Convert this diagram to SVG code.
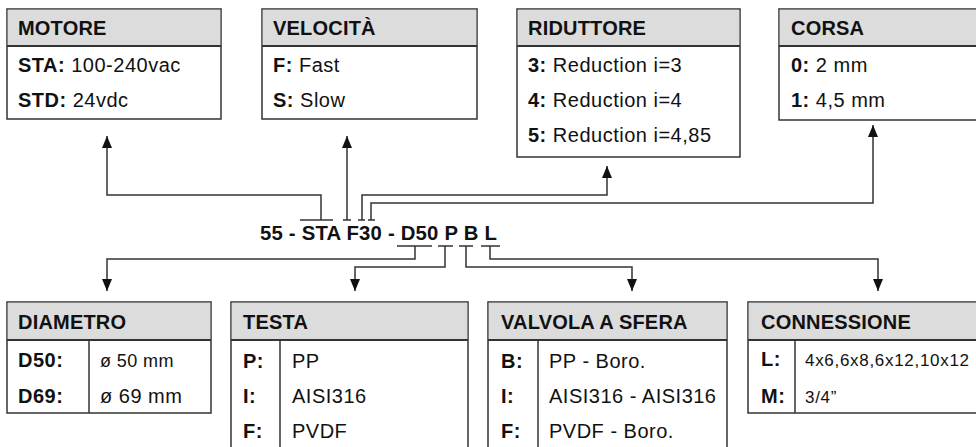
<svg xmlns="http://www.w3.org/2000/svg" width="976" height="447" viewBox="0 0 976 447">
<style>
text{font-family:"Liberation Sans",Arial,sans-serif;fill:#111}
.h{font-size:20px;font-weight:bold;letter-spacing:0.2px}
.t{font-size:20px;letter-spacing:0.5px}
.k{font-weight:bold}
.s{font-size:17px;letter-spacing:0.7px}
.box{fill:#fff;stroke:#333;stroke-width:1.5}
.hd{fill:#dcdcdc}
.sep{stroke:#333;stroke-width:2}
.div{stroke:#333;stroke-width:1.5}
.con{fill:none;stroke:#333;stroke-width:1.5}
</style>
<defs>
<marker id="arr" viewBox="0 0 12 10" refX="12" refY="5" markerWidth="12" markerHeight="10" markerUnits="userSpaceOnUse" orient="auto">
<path d="M0,0 L12,5 L0,10 z" fill="#111"/>
</marker>
</defs>

<g id="motore">
<rect class="box" x="7" y="9" width="214" height="110"/>
<rect class="hd" x="7.75" y="9.75" width="212.5" height="36"/>
<line class="sep" x1="7" y1="46" x2="221" y2="46"/>
<text class="h" x="18" y="35">MOTORE</text>
<text class="t" x="18" y="72"><tspan class="k">STA:</tspan> 100-240vac</text>
<text class="t" x="18" y="107"><tspan class="k">STD:</tspan> 24vdc</text>
</g>

<g id="velocita">
<rect class="box" x="262" y="9" width="215" height="110"/>
<rect class="hd" x="262.75" y="9.75" width="213.5" height="36"/>
<line class="sep" x1="262" y1="46" x2="477" y2="46"/>
<text class="h" x="273" y="35">VELOCITÀ</text>
<text class="t" x="273" y="72"><tspan class="k">F:</tspan> Fast</text>
<text class="t" x="273" y="107"><tspan class="k">S:</tspan> Slow</text>
</g>

<g id="riduttore">
<rect class="box" x="517" y="9" width="223" height="148"/>
<rect class="hd" x="517.75" y="9.75" width="221.5" height="36"/>
<line class="sep" x1="517" y1="46" x2="740" y2="46"/>
<text class="h" x="528" y="35">RIDUTTORE</text>
<text class="t" x="528" y="72"><tspan class="k">3:</tspan> Reduction i=3</text>
<text class="t" x="528" y="107"><tspan class="k">4:</tspan> Reduction i=4</text>
<text class="t" x="528" y="142"><tspan class="k">5:</tspan> Reduction i=4,85</text>
</g>

<g id="corsa">
<rect class="box" x="779" y="9" width="205" height="111"/>
<rect class="hd" x="779.75" y="9.75" width="204" height="36"/>
<line class="sep" x1="779" y1="46" x2="984" y2="46"/>
<text class="h" x="791" y="35">CORSA</text>
<text class="t" x="791" y="72"><tspan class="k">0:</tspan> 2 mm</text>
<text class="t" x="791" y="107"><tspan class="k">1:</tspan> 4,5 mm</text>
</g>

<g id="codice">
<text class="h" x="260" y="240" font-size="19.5" textLength="237" lengthAdjust="spacingAndGlyphs">55 - STA F30 - D50 P B L</text>
</g>

<g id="diametro">
<rect class="box" x="7" y="302" width="204" height="111"/>
<rect class="hd" x="7.75" y="302.75" width="202.5" height="37"/>
<line class="sep" x1="7" y1="340" x2="211" y2="340"/>
<line class="div" x1="89" y1="340" x2="89" y2="413"/>
<text class="h" x="18" y="329">DIAMETRO</text>
<text class="t k" x="18" y="367">D50:</text>
<text class="t k" x="18" y="403">D69:</text>
<text x="100" y="367" font-size="18" letter-spacing="0.4">ø 50 mm</text>
<text class="t" x="100" y="403">ø 69 mm</text>
</g>

<g id="testa">
<rect class="box" x="231" y="302" width="237" height="150"/>
<rect class="hd" x="231.75" y="302.75" width="235.5" height="37"/>
<line class="sep" x1="231" y1="340" x2="468" y2="340"/>
<line class="div" x1="280" y1="340" x2="280" y2="452"/>
<text class="h" x="243" y="329">TESTA</text>
<text class="t k" x="243" y="368">P:</text>
<text class="t k" x="243" y="403">I:</text>
<text class="t k" x="243" y="438">F:</text>
<text class="t" x="292" y="368">PP</text>
<text class="t" x="292" y="403">AISI316</text>
<text class="t" x="292" y="438">PVDF</text>
</g>

<g id="valvola">
<rect class="box" x="488" y="302" width="239" height="150"/>
<rect class="hd" x="488.75" y="302.75" width="237.5" height="37"/>
<line class="sep" x1="488" y1="340" x2="727" y2="340"/>
<line class="div" x1="538" y1="340" x2="538" y2="452"/>
<text class="h" x="501" y="329">VALVOLA A SFERA</text>
<text class="t k" x="501" y="368">B:</text>
<text class="t k" x="501" y="403">I:</text>
<text class="t k" x="501" y="438">F:</text>
<text class="t" x="549" y="368">PP - Boro.</text>
<text class="t" x="549" y="403">AISI316 - AISI316</text>
<text class="t" x="549" y="438">PVDF - Boro.</text>
</g>

<g id="connessione">
<rect class="box" x="748" y="302" width="236" height="111"/>
<rect class="hd" x="748.75" y="302.75" width="234.5" height="37"/>
<line class="sep" x1="748" y1="340" x2="984" y2="340"/>
<line class="div" x1="795" y1="340" x2="795" y2="413"/>
<text class="h" x="761" y="329">CONNESSIONE</text>
<text class="t k" x="761" y="366">L:</text>
<text class="t k" x="761" y="403">M:</text>
<text class="s" x="805" y="366">4x6,6x8,6x12,10x12</text>
<text class="s" x="805" y="403">3/4”</text>
</g>

<g id="connectors">
<path class="con" d="M300,220 H333"/>
<path class="con" d="M321,220 V195 H107 V136" marker-end="url(#arr)"/>
<path class="con" d="M343,220 H351"/>
<path class="con" d="M347,220 V136" marker-end="url(#arr)"/>
<path class="con" d="M358,220 H365"/>
<path class="con" d="M362,220 V195 H607 V166" marker-end="url(#arr)"/>
<path class="con" d="M368,220 H375"/>
<path class="con" d="M371,220 V203 H873 V125" marker-end="url(#arr)"/>
<path class="con" d="M397,246 H432"/>
<path class="con" d="M415,246 V259 H107 V291" marker-end="url(#arr)"/>
<path class="con" d="M438,246 H453"/>
<path class="con" d="M445,246 V267 H355 V291" marker-end="url(#arr)"/>
<path class="con" d="M459,246 H473"/>
<path class="con" d="M466,246 V267 H632 V291" marker-end="url(#arr)"/>
<path class="con" d="M481,246 H500"/>
<path class="con" d="M490,246 V259 H878 V291" marker-end="url(#arr)"/>
</g>
</svg>
